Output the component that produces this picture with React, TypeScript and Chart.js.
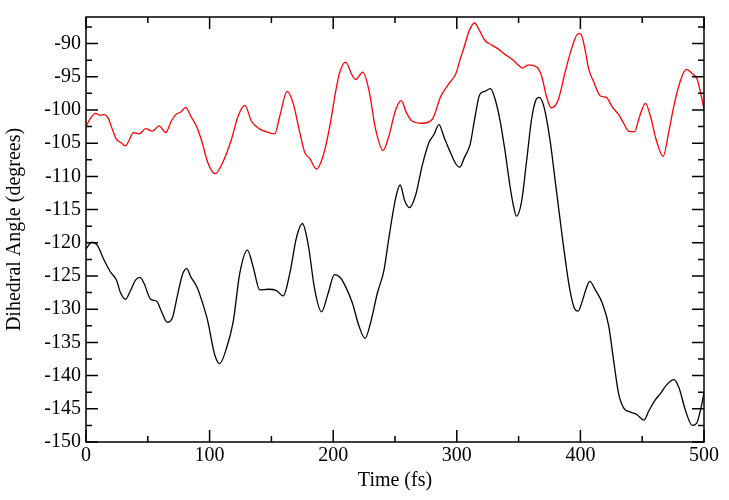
import React, { useEffect, useRef } from "react";
import { Chart, registerables } from "chart.js";

Chart.register(...registerables);

const redTime = [0, 3.8, 7.8, 11.3, 15, 17.8, 21.3, 24.6, 28.1, 32, 34.8, 38.3, 43, 48.3, 53.7, 59, 64.5, 69, 72.6, 76.7, 80.7, 84.7, 90, 94, 98.5, 104.5, 110.9, 117.7, 123.1, 128.5, 133.9, 139.2, 146, 152.7, 156.8, 162.7, 167.6, 173, 177, 181, 186.5, 191.9, 197.3, 202.4, 205, 210, 215.4, 218, 224, 228.9, 234.3, 240.3, 245.1, 250.5, 255.1, 259.2, 264, 272, 280.2, 286.9, 293.7, 299.3, 302.8, 305, 310.4, 314.4, 318.5, 322.6, 328, 333.4, 338.8, 344.2, 349.6, 353.1, 357.7, 364.4, 368.5, 372.6, 376.6, 382, 387.4, 392.8, 398.2, 400.5, 403.2, 406.7, 410.8, 416.2, 421, 425.6, 431, 435, 439.1, 443.7, 448, 452.6, 456.6, 461.5, 466.9, 471.4, 475.5, 480.9, 485.7, 490.3, 494.3, 497.6, 500];
const redAngle = [-102.5, -101.2, -100.5, -100.8, -100.7, -101.2, -102.9, -104.4, -104.9, -105.4, -104.6, -103.4, -103.6, -102.8, -103.2, -102.4, -103.4, -101.7, -100.7, -100.3, -99.6, -100.9, -102.7, -104.9, -107.9, -109.6, -107.8, -104.4, -100.9, -99.3, -101.7, -102.7, -103.3, -103.6, -100.9, -97.2, -99, -103.4, -106.4, -107.3, -108.9, -106.9, -102.4, -96.8, -94.5, -92.8, -94.8, -95.4, -94.3, -97, -102.9, -106.1, -103.9, -100, -98.6, -100.4, -101.7, -102, -101.4, -98, -96, -94.5, -92.3, -91.1, -87.9, -86.9, -88.1, -89.5, -90.2, -90.8, -91.6, -92.3, -93.2, -93.7, -93.2, -93.5, -94.8, -98, -99.7, -98.5, -94.5, -90.8, -88.5, -88.6, -90.4, -93.8, -95.8, -97.9, -98.1, -99.5, -100.7, -102, -103.2, -103.3, -100.9, -99, -100.9, -104.6, -107, -103.4, -99.5, -95.6, -93.9, -94.5, -95.3, -97.7, -99.9];

const blackTime = [0, 5, 9.2, 14.6, 19.8, 24.6, 28.1, 32, 36.2, 40.2, 43.7, 46.9, 52.3, 57.2, 61, 65.8, 69.9, 73.9, 78, 81.5, 84.7, 90.1, 94.2, 98.5, 104.2, 108.2, 113.6, 119, 124.4, 130.6, 135.2, 140.6, 147.3, 154.1, 159.5, 164.9, 170.3, 175.1, 179.7, 185.1, 190.5, 195.9, 201, 206, 210, 215.4, 220.8, 225.7, 230.3, 235.7, 241.1, 245.1, 250.5, 254.1, 258.1, 261.8, 266.7, 272.1, 277.5, 281.5, 285.6, 289.7, 293.7, 299.1, 302.3, 306.3, 310.9, 314.4, 318.5, 322.6, 327.2, 330.7, 334.8, 338.8, 342.9, 345.6, 348.3, 352.4, 356.4, 360.5, 364, 366.7, 370.5, 375.3, 380.7, 386.1, 391.5, 395.5, 398.2, 401.5, 404.5, 407.6, 412.1, 417.5, 422.9, 427, 431, 435.1, 440.5, 445.9, 451.3, 455.4, 460, 464.8, 469.7, 475.7, 479.7, 485.1, 490.5, 494, 497.3, 500];
const blackAngle = [-120.9, -119.9, -120.4, -122.6, -124.4, -125.6, -127.6, -128.5, -127.1, -125.6, -125.2, -126.1, -128.5, -128.8, -130.3, -132, -131.3, -128, -124.8, -123.9, -125.1, -126.8, -129, -131.8, -136.9, -138.2, -135.9, -132, -124.6, -121.1, -123.6, -127.1, -127, -127.2, -128, -124.6, -119.2, -117.1, -120.2, -127.1, -130.4, -127.6, -124.8, -125.3, -126.6, -129, -132.5, -134.4, -132, -127.6, -124.1, -119.2, -113.3, -111.3, -113.8, -114.7, -112.8, -108.3, -104.9, -103.7, -102.2, -104.1, -105.9, -108.1, -108.6, -107.1, -105.1, -101.4, -97.7, -97.2, -96.8, -98.2, -101.4, -105.9, -111.3, -114.2, -116, -113.8, -107.8, -101.4, -98.5, -98.1, -99.5, -104.4, -112.3, -120.2, -127.1, -130, -130.3, -128.8, -127, -125.8, -127.1, -129, -132.5, -137.9, -142.8, -144.9, -145.5, -145.9, -146.7, -145.3, -143.8, -142.7, -141.4, -140.6, -141.8, -145.3, -147.5, -147.2, -145.1, -142.6];

const xTickLabels = [0, 100, 200, 300, 400, 500];
const xMinorTicks = [50, 150, 250, 350, 450];
const yTickLabels = [-150, -145, -140, -135, -130, -125, -120, -115, -110, -105, -100, -95, -90];
const yMinorTicks = [-147.5, -142.5, -137.5, -132.5, -127.5, -122.5, -117.5, -112.5, -107.5, -102.5, -97.5, -92.5, -87.5];

const FONT = "'Liberation Serif', 'Times New Roman', serif";
Chart.defaults.font.family = FONT;
Chart.defaults.font.size = 20;
Chart.defaults.color = "#000";

const framePlugin = {
  id: "frameTicks",
  afterDatasetsDraw(chart: any) {
    const { ctx, chartArea, scales } = chart;
    const { left, right, top, bottom } = chartArea;
    const xs = scales.x;
    const ys = scales.y;
    ctx.save();
    ctx.strokeStyle = "#000";
    ctx.lineWidth = 1.5;
    ctx.strokeRect(left, top, right - left, bottom - top);
    ctx.beginPath();
    const xt = (v: number, len: number) => {
      const p = xs.getPixelForValue(v);
      ctx.moveTo(p, bottom);
      ctx.lineTo(p, bottom - len);
      ctx.moveTo(p, top);
      ctx.lineTo(p, top + len);
    };
    const yt = (v: number, len: number) => {
      const p = ys.getPixelForValue(v);
      ctx.moveTo(left, p);
      ctx.lineTo(left + len, p);
      ctx.moveTo(right, p);
      ctx.lineTo(right - len, p);
    };
    xTickLabels.forEach((v) => xt(v, 12));
    xMinorTicks.forEach((v) => xt(v, 6));
    yTickLabels.forEach((v) => yt(v, 12));
    yMinorTicks.forEach((v) => yt(v, 6));
    ctx.stroke();
    ctx.restore();
  },
};

export default function App() {
  const ref = useRef<HTMLCanvasElement | null>(null);
  useEffect(() => {
    document.body.style.margin = "0";
    const canvas = ref.current;
    if (!canvas) return;
    const chart = new Chart(canvas, {
      type: "line",
      data: {
        datasets: [
          {
            label: "red",
            data: redTime.map((t, i) => ({ x: t, y: redAngle[i] })),
            borderColor: "#ff0000",
            borderWidth: 1.3,
            pointRadius: 0,
            cubicInterpolationMode: "monotone",
            fill: false,
          },
          {
            label: "black",
            data: blackTime.map((t, i) => ({ x: t, y: blackAngle[i] })),
            borderColor: "#000000",
            borderWidth: 1.3,
            pointRadius: 0,
            cubicInterpolationMode: "monotone",
            fill: false,
          },
        ],
      },
      options: {
        responsive: false,
        animation: false,
        layout: { padding: { top: 9, right: 25, left: 0, bottom: 0 } },
        plugins: { legend: { display: false }, tooltip: { enabled: false } },
        scales: {
          x: {
            type: "linear",
            min: 0,
            max: 500,
            grid: { display: false, drawTicks: false },
            border: { display: false },
            afterBuildTicks: (s: any) => {
              s.ticks = xTickLabels.map((v) => ({ value: v }));
            },
            afterFit: (s: any) => {
              s.height = 58;
            },
            ticks: {
              autoSkip: false,
              maxRotation: 0,
              padding: 2,
              color: "#000",
              font: { family: FONT, size: 20 },
            },
            title: {
              display: true,
              text: "Time (fs)",
              color: "#000",
              font: { family: FONT, size: 20 },
              padding: { top: 0, bottom: 7 },
            },
          },
          y: {
            type: "linear",
            min: -150,
            max: -86,
            grid: { display: false, drawTicks: false },
            border: { display: false },
            afterBuildTicks: (s: any) => {
              s.ticks = yTickLabels.map((v) => ({ value: v }));
            },
            afterFit: (s: any) => {
              s.width = 86;
            },
            ticks: {
              autoSkip: false,
              padding: 5,
              color: "#000",
              font: { family: FONT, size: 20 },
            },
            title: {
              display: true,
              text: "Dihedral Angle (degrees)",
              color: "#000",
              font: { family: FONT, size: 20 },
              padding: { top: 3, bottom: 0 },
            },
          },
        },
      },
      plugins: [framePlugin],
    });
    return () => chart.destroy();
  }, []);
  return (
    <div style={{ width: 729, height: 500 }}>
      <canvas ref={ref} width={729} height={500} />
    </div>
  );
}
